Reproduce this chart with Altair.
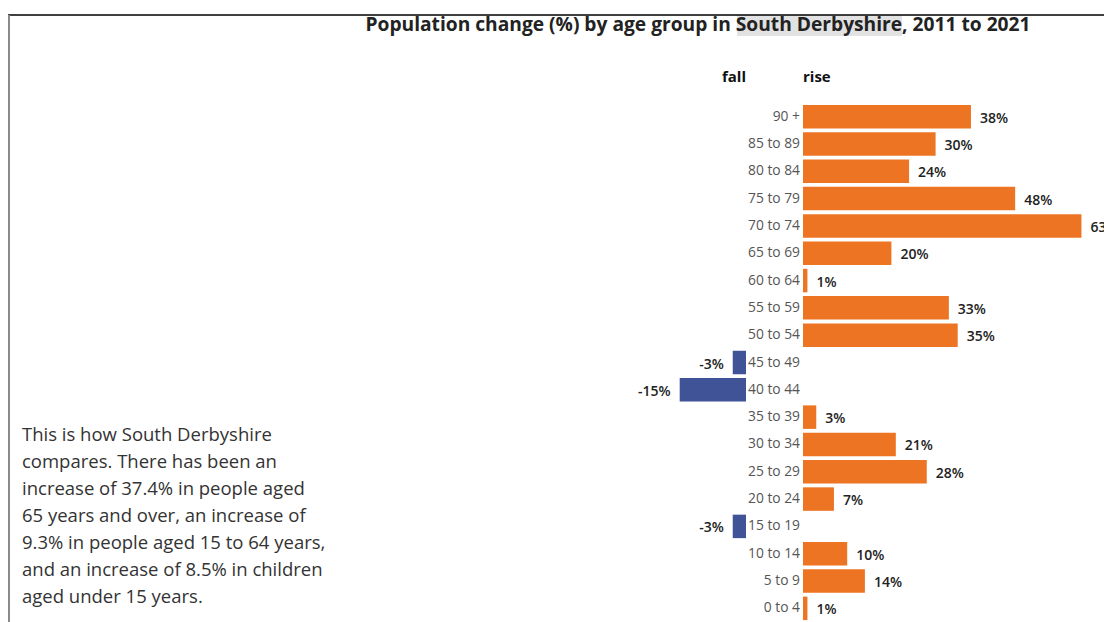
import altair as alt
import pandas as pd

# ---- data ----
ages = ["90 +", "85 to 89", "80 to 84", "75 to 79", "70 to 74", "65 to 69",
        "60 to 64", "55 to 59", "50 to 54", "45 to 49", "40 to 44", "35 to 39",
        "30 to 34", "25 to 29", "20 to 24", "15 to 19", "10 to 14", "5 to 9", "0 to 4"]
changes = [38, 30, 24, 48, 63, 20, 1, 33, 35, -3, -15, 3, 21, 28, 7, -3, 10, 14, 1]

title_text = "Population change (%) by age group in South Derbyshire, 2011 to 2021"
header_fall = "fall"
header_rise = "rise"
paragraph = [
    "This is how South Derbyshire",
    "compares. There has been an",
    "increase of 37.4% in people aged",
    "65 years and over, an increase of",
    "9.3% in people aged 15 to 64 years,",
    "and an increase of 8.5% in children",
    "aged under 15 years.",
]

ORANGE = "#EC7422"
BLUE = "#3F5396"
FONT = "Open Sans"

df = pd.DataFrame({"age": ages, "change": changes})
df["label"] = [f"{v}%" for v in changes]

W, H = 1096, 614

y_enc = alt.Y("age:N", sort=ages, axis=None,
              scale=alt.Scale(range=[95, 614], paddingInner=0.14, paddingOuter=0.07))

rise_scale = alt.Scale(domain=[0, 70], range=[795, 1104.4], nice=False, zero=False)
fall_scale = alt.Scale(domain=[-20, 0], range=[649.6, 738], nice=False, zero=False)

base = alt.Chart(df)

rise_bars = base.transform_filter("datum.change > 0").mark_bar(color=ORANGE).encode(
    x=alt.X("change:Q", scale=rise_scale, axis=None),
    x2=alt.datum(0),
    y=y_enc,
)
rise_labels = base.transform_filter("datum.change > 0").mark_text(
    align="left", baseline="middle", dx=9, dy=2, font=FONT, fontSize=14,
    fontWeight=600, color="#222222"
).encode(
    x=alt.X("change:Q", scale=rise_scale, axis=None),
    y=y_enc,
    text="label:N",
)
fall_bars = base.transform_filter("datum.change < 0").mark_bar(color=BLUE).encode(
    x=alt.X("change:Q", scale=fall_scale, axis=None),
    x2=alt.datum(0),
    y=y_enc,
)
fall_labels = base.transform_filter("datum.change < 0").mark_text(
    align="right", baseline="middle", dx=-9, dy=2, font=FONT, fontSize=14,
    fontWeight=600, color="#222222"
).encode(
    x=alt.X("change:Q", scale=fall_scale, axis=None),
    y=y_enc,
    text="label:N",
)
cat_labels = base.mark_text(
    align="right", baseline="middle", dx=-3, font=FONT, fontSize=13.8, color="#555555"
).encode(
    x=alt.X("z:Q", scale=rise_scale, axis=None),
    y=y_enc,
    text="age:N",
).transform_calculate(z="0")

one = alt.Data(values=[{}])

highlight = alt.Chart(one).mark_rect(color="#e2e2e2").encode(
    x=alt.value(729), x2=alt.value(894), y=alt.value(7), y2=alt.value(28))
top_line = alt.Chart(one).mark_rule(color="#000000", strokeWidth=1.5).encode(
    x=alt.value(0), x2=alt.value(W), y=alt.value(7))
left_line = alt.Chart(one).mark_rule(color="#8a8a8a", strokeWidth=2).encode(
    x=alt.value(1), y=alt.value(7), y2=alt.value(H))

title = alt.Chart(one).mark_text(
    align="center", baseline="alphabetic", font=FONT, fontSize=19.2, fontWeight="bold",
    color="#222222"
).encode(x=alt.value(690), y=alt.value(23), text=alt.value(title_text))

fall_h = alt.Chart(one).mark_text(
    align="right", baseline="middle", font=FONT, fontSize=15, fontWeight="bold",
    color="#111111"
).encode(x=alt.value(738), y=alt.value(69), text=alt.value(header_fall))
rise_h = alt.Chart(one).mark_text(
    align="left", baseline="middle", font=FONT, fontSize=15, fontWeight="bold",
    color="#111111"
).encode(x=alt.value(795), y=alt.value(69), text=alt.value(header_rise))

para = alt.Chart(one).mark_text(
    align="left", baseline="alphabetic", font=FONT, fontSize=18.5, lineHeight=27,
    color="#333333"
).encode(x=alt.value(14), y=alt.value(433), text=alt.value(paragraph))

chart = alt.layer(
    highlight, top_line, left_line, title, fall_h, rise_h, para,
    rise_bars, rise_labels, fall_bars, fall_labels, cat_labels,
).resolve_scale(x="independent").properties(
    width=W, height=H, autosize=alt.AutoSizeParams(type="none"), padding=0,
).configure_view(stroke=None)

chart.save("out.html", embed_options={"renderer": "svg", "actions": False})
